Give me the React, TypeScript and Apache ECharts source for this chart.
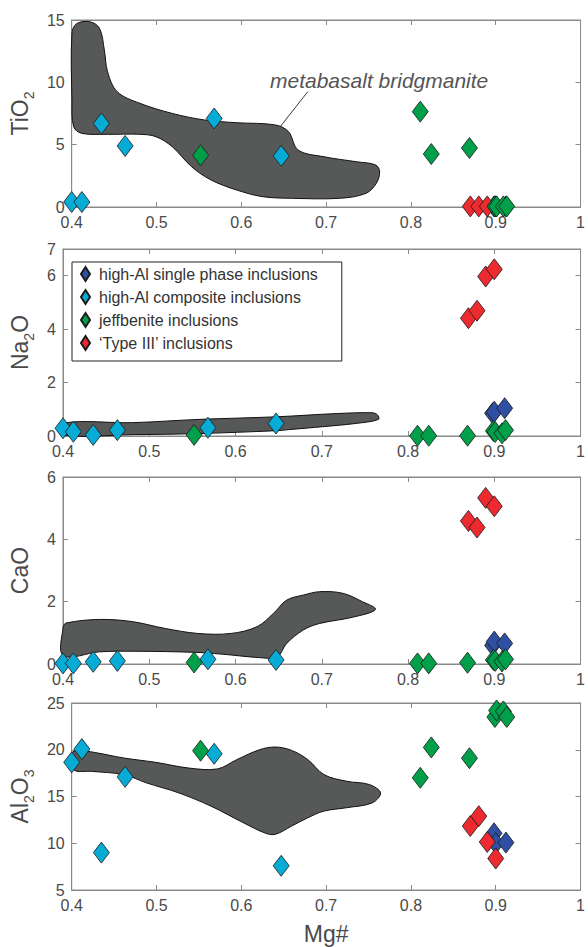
import React, { useEffect, useRef } from "react";
import * as echarts from "echarts";

// ---- Data ----
const xTicks = [0.4, 0.5, 0.6, 0.7, 0.8, 0.9, 1];

const blueName = "high-Al single phase inclusions";
const cyanName = "high-Al composite inclusions";
const greenName = "jeffbenite inclusions";
const redName = "\u2018Type III\u2019 inclusions";

const blueX = [0.898, 0.9, 0.912];
const blueTiO2 = [0.05, 0.05, 0.05];
const blueNa2O = [0.85, 0.91, 1.04];
const blueCaO = [0.6, 0.72, 0.66];
const blueAl2O3 = [11.06, 10.0, 10.07];

const cyanX = [0.4, 0.412, 0.435, 0.463, 0.568, 0.647];
const cyanTiO2 = [0.4, 0.4, 6.7, 4.9, 7.1, 4.1];
const cyanNa2O = [0.29, 0.16, 0.04, 0.22, 0.31, 0.47];
const cyanCaO = [0.02, 0.02, 0.07, 0.1, 0.15, 0.13];
const cyanAl2O3 = [18.65, 20.07, 9.0, 17.1, 19.57, 7.59];

const greenX = [0.552, 0.811, 0.824, 0.869, 0.899, 0.901, 0.909, 0.913];
const greenTiO2 = [4.15, 7.65, 4.25, 4.73, 0.05, 0.05, 0.05, 0.05];
const greenNa2O = [0.04, 0.01, 0.01, 0.01, 0.19, 0.15, 0.1, 0.22];
const greenCaO = [0.05, 0.02, 0.02, 0.04, 0.13, 0.1, 0.08, 0.15];
const greenAl2O3 = [19.9, 17.0, 20.25, 19.1, 23.5, 24.2, 24.1, 23.5];

const redX = [0.87, 0.88, 0.89, 0.9];
const redTiO2 = [0.05, 0.05, 0.05, 0.05];
const redNa2O = [4.41, 4.69, 5.97, 6.24];
const redCaO = [4.59, 4.38, 5.33, 5.06];
const redAl2O3 = [11.84, 12.9, 10.14, 8.37];

// metabasalt bridgmanite fields (outline points [Mg#, oxide])
const fieldTiO2 = [
  [0.4003, 13.93], [0.4057, 14.7], [0.4214, 14.86], [0.4328, 14.33], [0.4385, 12.59],
  [0.4423, 10.85], [0.4537, 9.25], [0.4803, 8.32], [0.5185, 7.51], [0.5566, 6.98],
  [0.5946, 6.76], [0.6403, 6.58], [0.6557, 6.04], [0.6671, 4.57], [0.6975, 4.03],
  [0.7357, 3.63], [0.7585, 3.37], [0.7631, 2.83], [0.7592, 1.9], [0.7471, 1.1],
  [0.7166, 0.7], [0.6594, 0.7], [0.6251, 0.83], [0.5946, 1.36], [0.5642, 2.17],
  [0.5414, 3.23], [0.5185, 4.84], [0.4994, 5.64], [0.4803, 5.83], [0.4423, 5.83],
  [0.4118, 5.91], [0.4023, 6.44], [0.4003, 8.58],
];
const fieldNa2O = [
  [0.4003, 0.48], [0.4803, 0.5], [0.5566, 0.62], [0.648, 0.72], [0.7174, 0.84],
  [0.7585, 0.87], [0.7646, 0.79], [0.7657, 0.62], [0.7394, 0.47], [0.7014, 0.35],
  [0.6623, 0.24], [0.648, 0.2], [0.5566, 0.09], [0.4803, 0.05], [0.4003, 0.04],
];
const fieldCaO = [
  [0.4003, 0.27], [0.4003, 1.2], [0.4042, 1.32], [0.4423, 1.43], [0.4803, 1.36],
  [0.5185, 1.14], [0.5566, 0.98], [0.5946, 0.98], [0.6251, 1.2], [0.6442, 1.63],
  [0.6594, 2.05], [0.6785, 2.21], [0.6975, 2.32], [0.7242, 2.27], [0.7471, 2.0],
  [0.7623, 1.75], [0.7357, 1.5], [0.6975, 1.3], [0.6785, 1.09], [0.6594, 0.66],
  [0.648, 0.23], [0.6251, 0.21], [0.5946, 0.29], [0.5566, 0.37], [0.4803, 0.41],
  [0.4423, 0.39],
];
const fieldAl2O3 = [
  [0.4003, 19.65], [0.408, 19.93], [0.4271, 19.71], [0.4614, 19.12], [0.4994, 18.65],
  [0.5375, 18.05], [0.5718, 17.95], [0.5946, 18.94], [0.6214, 20.0], [0.6403, 20.29],
  [0.6594, 19.93], [0.6785, 18.94], [0.6975, 17.34], [0.7242, 16.63], [0.7509, 16.28],
  [0.7642, 15.39], [0.7546, 14.33], [0.7242, 13.8], [0.6975, 13.44], [0.6785, 12.73],
  [0.6594, 11.84], [0.6403, 10.96], [0.6289, 11.06], [0.6023, 12.2], [0.5642, 13.97],
  [0.5261, 15.39], [0.488, 16.46], [0.4614, 17.34], [0.4232, 17.69], [0.4023, 17.87],
];

const leaderLine = [[0.6783, 9.25], [0.6457, 6.42]];

const yMin = [0, 0, 0, 5];
const yMax = [15, 7, 6, 25];
const yInterval = [5, 2, 2, 5];
const yNames = ["{a|TiO}{s|2}", "{a|Na}{s|2}{a|O}", "{a|CaO}", "{a|Al}{s|2}{a|O}{s|3}"];

// ---- Layout / style ----
const FONT = "Liberation Sans";
const AXIS_COLOR = "#8a8a8a";
const TEXT_COLOR = "#4a4a4a";
const gridTops = [20, 249, 477, 703];
const gridH = 187;

const groups = [
  { name: blueName, color: "#2f4fa2", x: blueX, ys: [blueTiO2, blueNa2O, blueCaO, blueAl2O3] },
  { name: cyanName, color: "#06acd6", x: cyanX, ys: [cyanTiO2, cyanNa2O, cyanCaO, cyanAl2O3] },
  { name: redName, color: "#ec2a30", x: redX, ys: [redTiO2, redNa2O, redCaO, redAl2O3] },
  { name: greenName, color: "#00a04a", x: greenX, ys: [greenTiO2, greenNa2O, greenCaO, greenAl2O3] },
];
const fields = [fieldTiO2, fieldNa2O, fieldCaO, fieldAl2O3];

export default function App() {
  const ref = useRef<HTMLDivElement>(null);
  useEffect(() => {
    if (!ref.current) return;
    const chart = echarts.init(ref.current, null, { renderer: "svg" });

    const grid: any[] = [];
    const xAxis: any[] = [];
    const yAxis: any[] = [];
    const series: any[] = [];

    for (let i = 0; i < 4; i++) {
      grid.push({
        left: 63,
        width: 524,
        top: gridTops[i],
        height: gridH,
        show: true,
        borderColor: AXIS_COLOR,
        borderWidth: 1,
      });
      const xBase = {
        type: "value",
        gridIndex: i,
        min: 0.4,
        max: 1,
        interval: 0.1,
        splitLine: { show: false },
        axisLine: { show: true, onZero: false, lineStyle: { color: AXIS_COLOR, width: 1 } },
        axisTick: { show: true, inside: true, length: 5, lineStyle: { color: AXIS_COLOR } },
      };
      xAxis.push({
        ...xBase,
        position: "bottom",
        axisLabel: { color: TEXT_COLOR, fontSize: 16, fontFamily: FONT, margin: 7 },
        ...(i === 3
          ? {
              name: "Mg#",
              nameLocation: "middle",
              nameGap: 32,
              nameTextStyle: { color: TEXT_COLOR, fontSize: 23, fontFamily: FONT },
            }
          : {}),
      });
      xAxis.push({ ...xBase, position: "top", axisLabel: { show: false } });

      const yBase = {
        type: "value",
        gridIndex: i,
        min: yMin[i],
        max: yMax[i],
        interval: yInterval[i],
        splitLine: { show: false },
        axisLine: { show: true, onZero: false, lineStyle: { color: AXIS_COLOR, width: 1 } },
        axisTick: { show: true, inside: true, length: 5, lineStyle: { color: AXIS_COLOR } },
      };
      yAxis.push({
        ...yBase,
        position: "left",
        axisLabel: { color: TEXT_COLOR, fontSize: 16, fontFamily: FONT, margin: 7 },
        name: yNames[i],
        nameLocation: "middle",
        nameRotate: 90,
        nameGap: 32,
        nameTextStyle: {
          color: TEXT_COLOR,
          fontFamily: FONT,
          rich: {
            a: { fontSize: 23, color: TEXT_COLOR, fontFamily: FONT, verticalAlign: "bottom" },
            s: { fontSize: 14, color: TEXT_COLOR, fontFamily: FONT, verticalAlign: "bottom", padding: [0, 0, -5, 0] },
          },
        },
      });
      yAxis.push({ ...yBase, position: "right", axisLabel: { show: false } });

      const pts = fields[i];
      series.push({
        type: "custom",
        xAxisIndex: 2 * i,
        yAxisIndex: 2 * i,
        silent: true,
        z: 1,
        data: [[0.5, yMin[i]]],
        renderItem: (_params: any, api: any) => ({
          type: "polygon",
          shape: { points: pts.map((p) => api.coord(p)), smooth: 0.35 },
          style: { fill: "#575958", stroke: "#111", lineWidth: 1 },
        }),
      });

      for (const g of groups) {
        series.push({
          type: "scatter",
          name: g.name,
          xAxisIndex: 2 * i,
          yAxisIndex: 2 * i,
          z: 3,
          symbol: "diamond",
          symbolSize: [16, 21],
          itemStyle: { color: g.color, borderColor: "#1a1a1a", borderWidth: 0.8, opacity: 1 },
          data: g.x.map((x, k) => [x, g.ys[i][k]]),
        });
      }
    }

    series.push({
      type: "line",
      xAxisIndex: 0,
      yAxisIndex: 0,
      z: 2,
      symbol: "none",
      silent: true,
      lineStyle: { color: "#222", width: 0.9 },
      data: leaderLine,
    });

    chart.setOption({
      animation: false,
      textStyle: { fontFamily: FONT },
      grid,
      xAxis,
      yAxis,
      series,
      legend: {
        data: [blueName, cyanName, greenName, redName],
        orient: "vertical",
        left: 72,
        top: 262,
        padding: [4, 24, 10, 8],
        itemGap: 7,
        itemWidth: 9,
        itemHeight: 14,
        symbolKeepAspect: false,
        icon: "diamond",
        borderColor: "#222",
        borderWidth: 1,
        backgroundColor: "#fff",
        selectedMode: false,
        textStyle: { color: "#333", fontSize: 16, fontFamily: FONT, padding: [0, 0, 0, 4] },
      },
      graphic: [
        {
          type: "text",
          left: 270,
          top: 70,
          style: {
            text: "metabasalt bridgmanite",
            fill: "#555",
            font: `italic 21px "${FONT}"`,
          },
        },
      ],
    });

    return () => chart.dispose();
  }, []);

  return (
    <div
      ref={ref}
      style={{ position: "absolute", left: 0, top: 0, width: 588, height: 947, background: "#fff" }}
    />
  );
}
